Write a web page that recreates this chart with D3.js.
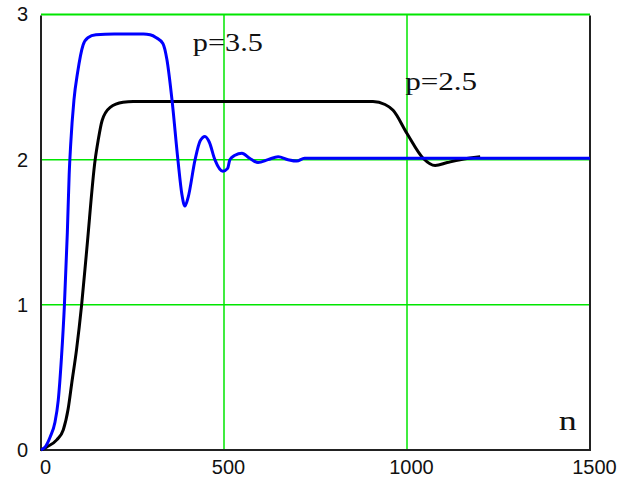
<!DOCTYPE html>
<html>
<head>
<meta charset="utf-8">
<script src="https://cdn.jsdelivr.net/npm/d3@7"></script>
<style>
  body { margin: 0; background: #fff; }
  svg { display: block; }
</style>
</head>
<body>
<div id="chart"></div>
<script>
// data
const xTicks = [0, 500, 1000, 1500];
const yTicks = [0, 1, 2, 3];

// p = 3.5 (blue)
const nBlue = [0, 11, 25, 38, 47, 56, 64, 72, 77, 81, 90, 100, 115, 128, 150, 200, 280, 298, 315, 333, 344, 358, 374, 385, 393, 402, 421, 435, 448, 460, 475, 497, 510, 516, 530, 549, 570, 593, 620, 648, 675, 699, 720, 1500];
const yBlue = [0, 0.02, 0.09, 0.19, 0.34, 0.64, 1.0, 1.5, 1.9, 2.1, 2.41, 2.6, 2.79, 2.84, 2.86, 2.865, 2.865, 2.86, 2.84, 2.8, 2.69, 2.41, 2.0, 1.76, 1.68, 1.74, 2.0, 2.13, 2.16, 2.12, 2.0, 1.92, 1.94, 2.0, 2.03, 2.045, 2.01, 1.98, 2.0, 2.02, 2.0, 1.99, 2.01, 2.01];

// p = 2.5 (black)
const nBlack = [0, 15, 43, 61, 74, 84, 97, 111, 125, 148, 156, 167, 189, 224, 252, 907, 940, 962, 1000, 1044, 1077, 1110, 1145, 1200];
const yBlack = [0, 0.02, 0.07, 0.14, 0.28, 0.46, 0.69, 1.0, 1.38, 2.0, 2.13, 2.27, 2.36, 2.395, 2.40, 2.40, 2.38, 2.34, 2.18, 2.01, 1.96, 1.98, 2.0, 2.02];

const labels = [
  { text: "p=3.5", n: 415, v: 2.75, len: 70 },
  { text: "p=2.5", n: 995, v: 2.48, len: 72 }
];

const width = 630, height = 481;
const margin = { top: 14.5, right: 40, bottom: 31, left: 41 };
const w = width - margin.left - margin.right;
const h = height - margin.top - margin.bottom;

const svg = d3.select("#chart").append("svg")
  .attr("width", width)
  .attr("height", height);

const g = svg.append("g")
  .attr("transform", `translate(${margin.left},${margin.top})`);

const x = d3.scaleLinear().domain([0, 1500]).range([0, w]);
const y = d3.scaleLinear().domain([0, 3]).range([h, 0]);

// green grid
g.append("g").selectAll("line")
  .data(xTicks.filter(d => d > 0 && d < 1500))
  .join("line")
  .attr("x1", d => x(d)).attr("x2", d => x(d))
  .attr("y1", 0).attr("y2", h)
  .attr("stroke", "#00e600").attr("stroke-width", 1.5);

g.append("g").selectAll("line")
  .data(yTicks.filter(d => d > 0))
  .join("line")
  .attr("x1", 0).attr("x2", w)
  .attr("y1", d => y(d)).attr("y2", d => y(d))
  .attr("stroke", "#00e600").attr("stroke-width", d => d === 3 ? 2 : 1.5);

// frame (left, bottom, right)
g.append("path")
  .attr("d", `M0,${y(3) + 1}V${h}H${w}V${y(3) + 1}`)
  .attr("fill", "none")
  .attr("stroke", "#222")
  .attr("stroke-width", 2);

// curves
const line = d3.line()
  .x(d => x(d[0]))
  .y(d => y(d[1]))
  .curve(d3.curveMonotoneX);

g.append("path")
  .datum(d3.zip(nBlack, yBlack))
  .attr("fill", "none")
  .attr("stroke", "#000")
  .attr("stroke-width", 3)
  .attr("d", line);

g.append("path")
  .datum(d3.zip(nBlue, yBlue))
  .attr("fill", "none")
  .attr("stroke", "#0000ff")
  .attr("stroke-width", 3)
  .attr("d", line);

// axes labels
const xAxis = g.append("g")
  .attr("transform", `translate(4,${h})`)
  .call(d3.axisBottom(x).tickValues(xTicks).tickFormat(d3.format("d")).tickSize(0).tickPadding(10));
xAxis.select(".domain").remove();
xAxis.selectAll("text")
  .attr("fill", "#111")
  .style("font-family", "'Liberation Sans', Arial, sans-serif")
  .style("font-size", "20px");

const yAxis = g.append("g")
  .call(d3.axisLeft(y).tickValues(yTicks).tickFormat(d3.format("d")).tickSize(0).tickPadding(13));
yAxis.select(".domain").remove();
yAxis.selectAll("text")
  .attr("fill", "#111")
  .style("font-family", "'Liberation Sans', Arial, sans-serif")
  .style("font-size", "20px");

// annotations
g.selectAll(".plabel")
  .data(labels)
  .join("text")
  .attr("class", "plabel")
  .attr("x", d => x(d.n))
  .attr("y", d => y(d.v))
  .attr("textLength", d => d.len)
  .attr("lengthAdjust", "spacingAndGlyphs")
  .attr("fill", "#111")
  .style("font-family", "'Liberation Serif', 'Times New Roman', serif")
  .style("font-size", "25px")
  .text(d => d.text);

g.append("text")
  .attr("x", x(1415))
  .attr("y", y(0.14))
  .attr("textLength", 18)
  .attr("lengthAdjust", "spacingAndGlyphs")
  .attr("fill", "#111")
  .style("font-family", "'Liberation Serif', 'Times New Roman', serif")
  .style("font-size", "27px")
  .text("n");
</script>
</body>
</html>
